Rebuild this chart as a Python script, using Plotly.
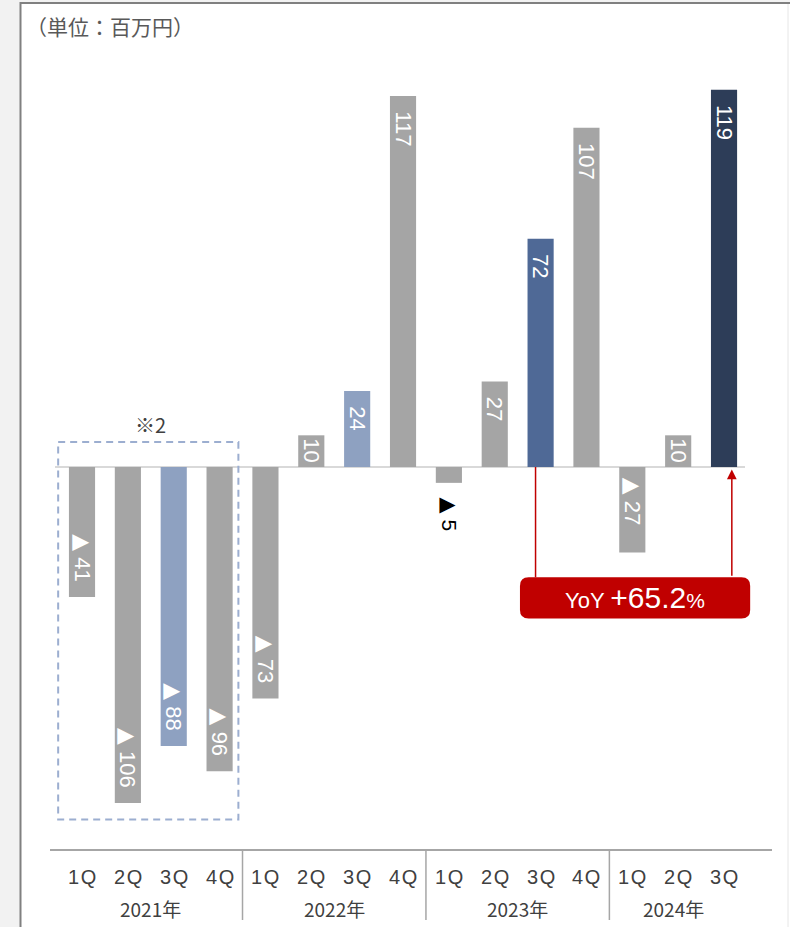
import plotly.graph_objects as go

# ---- data ----
quarters = ["1Q", "2Q", "3Q", "4Q", "1Q", "2Q", "3Q", "4Q", "1Q", "2Q", "3Q", "4Q", "1Q", "2Q", "3Q"]
years = ["2021年", "2022年", "2023年", "2024年"]
year_groups = [4, 4, 4, 3]
values = [-41, -106, -88, -96, -73, 10, 24, 117, -5, 27, 72, 107, -27, 10, 119]
highlight = {2: "#8ea1c1", 6: "#8ea1c1", 10: "#4f6996", 14: "#2d3d58"}
base_color = "#a5a5a5"
yoy_text_main = "+65.2"

# ---- geometry ----
W, H = 790, 927
ML, MR, MT, MB = 50, 18, 40, 78
PW, PH = W - ML - MR, H - MT - MB
X_RANGE = [-0.698, 15.046]
Y_RANGE = [-120.5, 134.7]


def px_to_paper_x(px):
    return (px - ML) / PW


def py_to_paper_y(py):
    return (H - MB - py) / PH


def idx_to_paper_x(i):
    return (i - X_RANGE[0]) / (X_RANGE[1] - X_RANGE[0])


TRI = "<span style='font-family:DejaVu Sans'>▲</span>"
NB = "\u00a0"


def make_label(v):
    core = (TRI + " " + str(abs(v))) if v < 0 else str(v)
    if abs(v) < 8:
        return NB * 2 + core
    if abs(v) < 15:
        return core
    if v > 0:
        return NB * 2 + core
    if v > -40:
        return core + NB * 4
    return core + NB * 2


idx = list(range(len(values)))
colors = [highlight.get(i, base_color) for i in idx]
labels = [make_label(v) for v in values]
positions = ["outside" if abs(v) < 8 else "inside" for v in values]

fig = go.Figure()
fig.add_trace(go.Bar(
    x=idx, y=values, width=0.57,
    marker=dict(color=colors, line=dict(width=0)),
    text=labels, textposition=positions, textangle=90,
    insidetextanchor="end", constraintext="none",
    insidetextfont=dict(color="white", size=22, family="Liberation Sans, Arial"),
    outsidetextfont=dict(color="black", size=21, family="Liberation Sans, Arial"),
    cliponaxis=False, hoverinfo="skip",
))

shapes = []
# panel frame
shapes.append(dict(type="rect", xref="paper", yref="paper", layer="below",
                   x0=px_to_paper_x(21), x1=px_to_paper_x(W + 5),
                   y0=py_to_paper_y(H + 5), y1=py_to_paper_y(3),
                   fillcolor="white", line=dict(width=0)))
shapes.append(dict(type="line", xref="paper", yref="paper",
                   x0=px_to_paper_x(20.5), x1=px_to_paper_x(20.5),
                   y0=py_to_paper_y(2), y1=py_to_paper_y(H + 5),
                   line=dict(color="#808080", width=2)))
shapes.append(dict(type="line", xref="paper", yref="paper",
                   x0=px_to_paper_x(20), x1=px_to_paper_x(W + 5),
                   y0=py_to_paper_y(3), y1=py_to_paper_y(3),
                   line=dict(color="#808080", width=2)))
shapes.append(dict(type="line", xref="paper", yref="paper",
                   x0=px_to_paper_x(788), x1=px_to_paper_x(788),
                   y0=py_to_paper_y(4), y1=py_to_paper_y(H + 5),
                   line=dict(color="#e6e6e6", width=1)))
# zero line
shapes.append(dict(type="line", xref="paper", yref="y", layer="below",
                   x0=px_to_paper_x(55), x1=px_to_paper_x(745), y0=0, y1=0,
                   line=dict(color="#d9d9d9", width=2)))
# dashed box around 2021
shapes.append(dict(type="rect", xref="x", yref="y",
                   x0=-0.52, x1=3.41, y0=7.9, y1=-111.2,
                   line=dict(color="#9caed0", width=2, dash="7px,5px")))
# year separators
pos = 0
for g in year_groups[:-1]:
    pos += g
    xp = idx_to_paper_x(pos - 0.5)
    shapes.append(dict(type="line", xref="paper", yref="paper",
                       x0=xp, x1=xp, y0=py_to_paper_y(850), y1=py_to_paper_y(920),
                       line=dict(color="#a6a6a6", width=1.5)))

# YoY box (rounded)
bx0, bx1, by0, by1 = 9.55, 14.57, -34.8, -47.8
rx, ry = 0.19, 2.7
path = (f"M {bx0+rx},{by0} L {bx1-rx},{by0} Q {bx1},{by0} {bx1},{by0-ry} "
        f"L {bx1},{by1+ry} Q {bx1},{by1} {bx1-rx},{by1} L {bx0+rx},{by1} "
        f"Q {bx0},{by1} {bx0},{by1+ry} L {bx0},{by0-ry} Q {bx0},{by0} {bx0+rx},{by0} Z")
shapes.append(dict(type="path", xref="x", yref="y", path=path,
                   fillcolor="#c00000", line=dict(width=0)))
# left connector from 3Q 2023 bar
shapes.append(dict(type="line", xref="x", yref="y",
                   x0=9.89, x1=9.89, y0=0, y1=by0,
                   line=dict(color="#c00000", width=1.5)))

annotations = []
# arrow to 3Q 2024 bar
annotations.append(dict(x=14.17, y=-0.8, ax=14.17, ay=by0, xref="x", yref="y",
                        axref="x", ayref="y", text="", showarrow=True,
                        arrowhead=2, arrowsize=1.3, arrowwidth=1.5, arrowcolor="#c00000"))
annotations.append(dict(x=(bx0 + bx1) / 2, y=(by0 + by1) / 2, xref="x", yref="y",
                        text=(f"<span style='font-size:22px'>YoY</span> "
                              f"<span style='font-size:30px'>{yoy_text_main}</span>"
                              f"<span style='font-size:21px'>%</span>"),
                        showarrow=False, font=dict(color="white", size=22,
                                                   family="Liberation Sans, Arial"),
                        xanchor="center", yanchor="middle"))
# unit label
annotations.append(dict(x=px_to_paper_x(24), y=py_to_paper_y(26), xref="paper", yref="paper",
                        text="（単位：百万円）", showarrow=False, xanchor="left", yanchor="middle",
                        font=dict(color="#595959", size=21, family="Noto Sans CJK JP")))
# ※2 note
annotations.append(dict(x=1.5, y=py_to_paper_y(424), xref="x", yref="paper",
                        text="※2", showarrow=False, xanchor="center", yanchor="middle",
                        font=dict(color="#404040", size=20, family="Noto Sans CJK JP")))
# quarter tick labels
for i, q in enumerate(quarters):
    annotations.append(dict(x=i, y=py_to_paper_y(877), xref="x", yref="paper",
                            text=q[0] + "\u200a" + q[1:],
                            showarrow=False, xanchor="center", yanchor="middle",
                            font=dict(color="#404040", size=20,
                                      family="Liberation Sans, Arial")))
# year labels
start = 0
for yname, g in zip(years, year_groups):
    c = start + (g - 1) / 2
    if g == 3:
        c -= 0.1
    annotations.append(dict(x=c, y=py_to_paper_y(908), xref="x", yref="paper", text=yname,
                            showarrow=False, xanchor="center", yanchor="middle",
                            font=dict(color="#404040", size=19,
                                      family="Liberation Sans Narrow, Noto Sans CJK JP")))
    start += g

fig.update_layout(
    width=W, height=H, margin=dict(l=ML, r=MR, t=MT, b=MB),
    paper_bgcolor="#f2f2f2", plot_bgcolor="rgba(0,0,0,0)",
    showlegend=False, shapes=shapes, annotations=annotations,
    xaxis=dict(range=X_RANGE, showgrid=False, zeroline=False, showticklabels=False,
               showline=True, linecolor="#a6a6a6", linewidth=2, ticks="", fixedrange=True),
    yaxis=dict(range=Y_RANGE, visible=False, showgrid=False, zeroline=False, fixedrange=True),
    font=dict(family="Liberation Sans, Arial"),
)

fig.write_html("out.html")
